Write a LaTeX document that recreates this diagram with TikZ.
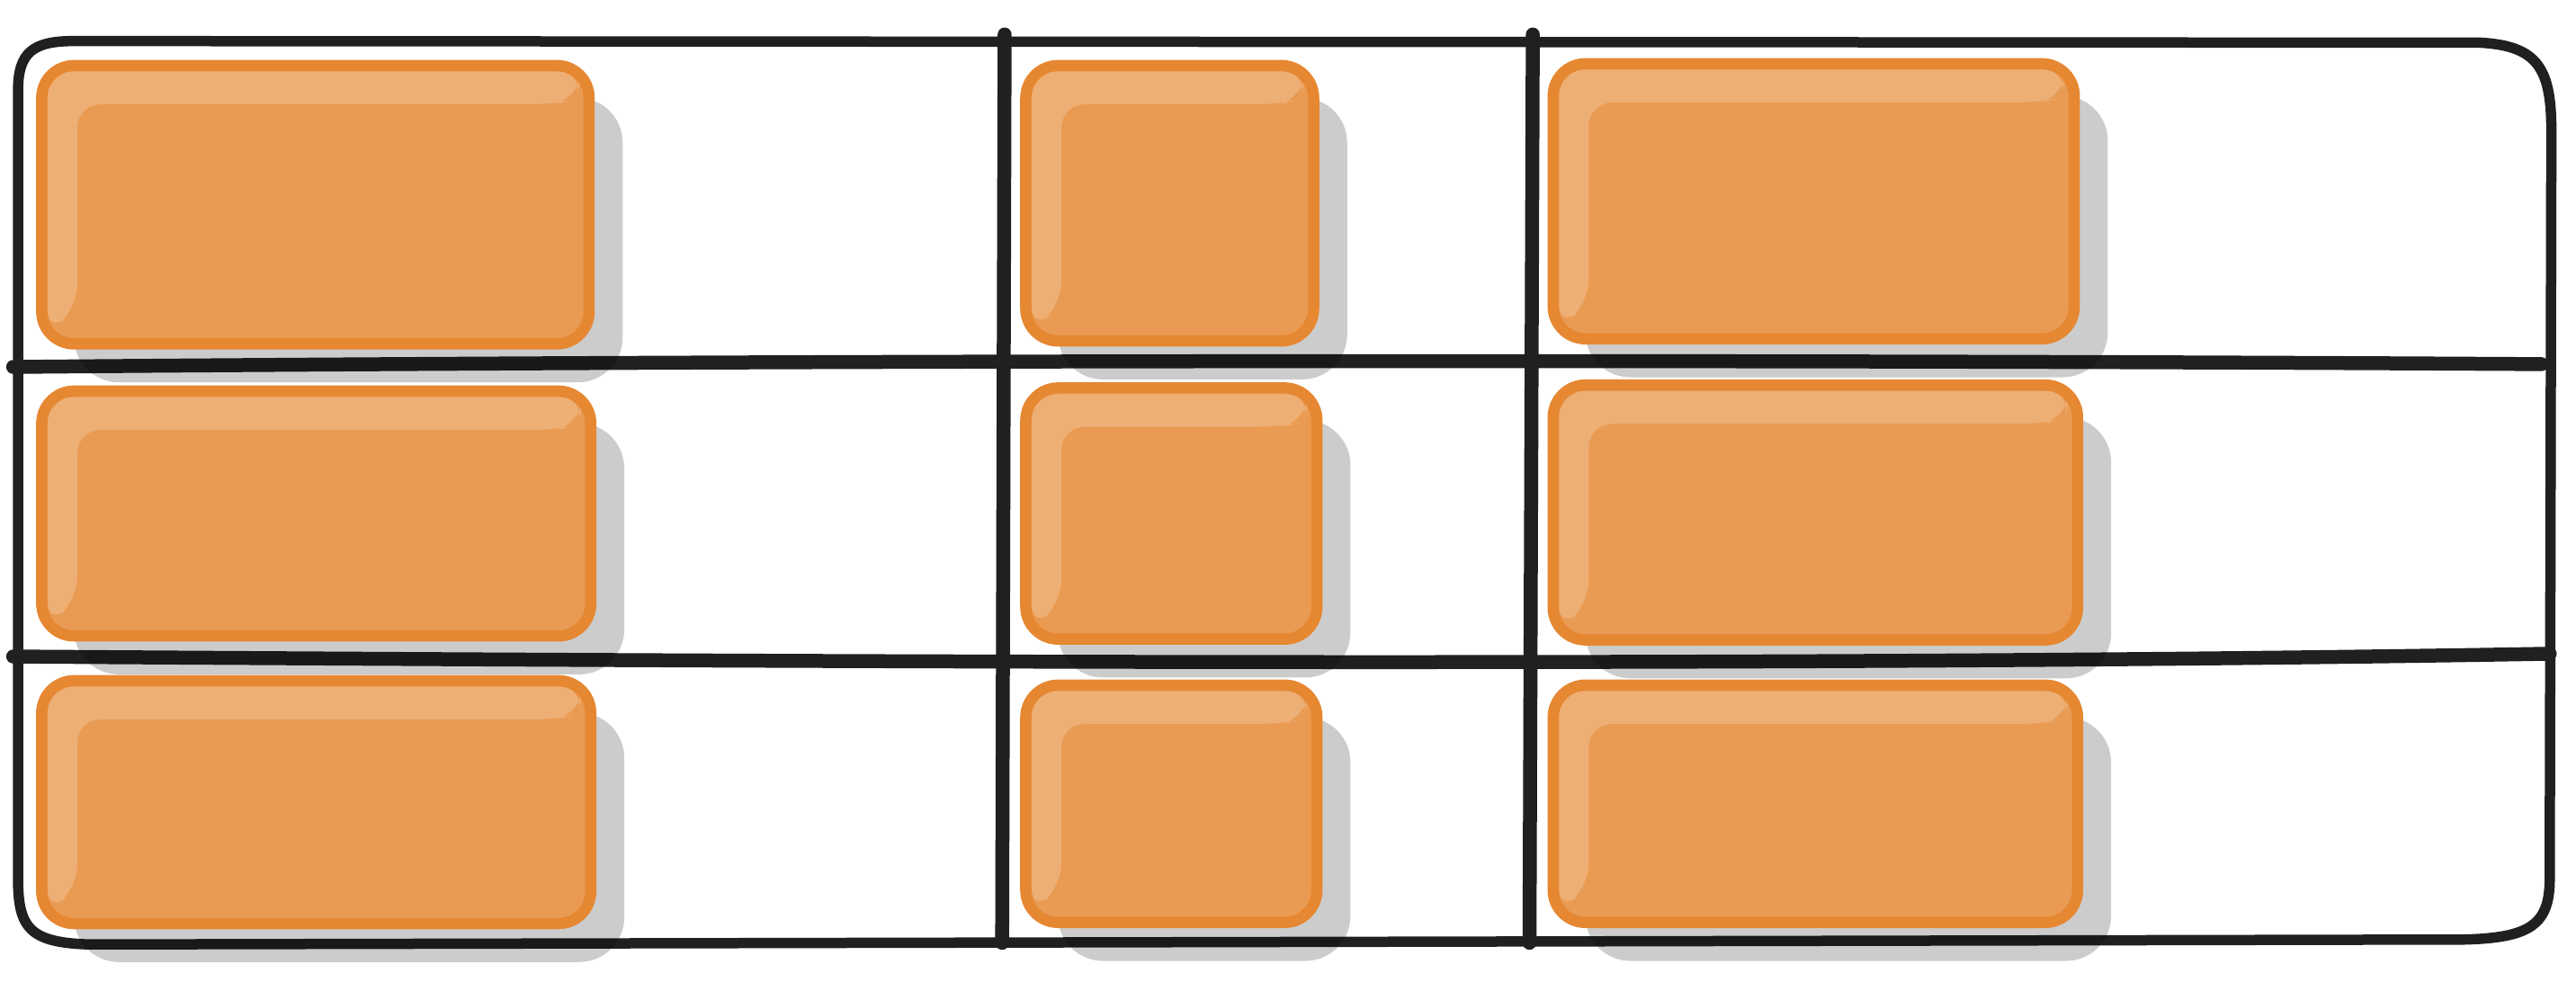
\documentclass[tikz,border=0pt]{standalone}
\usepackage{tikz}
\usepackage{xcolor}
\definecolor{BoxOrange}{RGB}{233, 155, 83}
\definecolor{EdgeOrange}{RGB}{230, 135, 50}
\definecolor{GlossOrange}{RGB}{238, 175, 117}
\definecolor{LineBlack}{RGB}{32, 32, 32}

\begin{document}
\begin{tikzpicture}[x = 0.18265mm, y = -0.18265mm,
        frameline/.style = {LineBlack, line width = 1.15mm, line cap = round, line join = round},
        gridline/.style = {LineBlack, line width = 1.55mm, line cap = round},
        shadowbox/.style = {fill = black, opacity = 0.2, rounded corners = 5mm},
        boxbody/.style = {fill = BoxOrange, rounded corners = 4mm},
        boxedge/.style = {draw = EdgeOrange, line width = 1.25mm, rounded corners = 3.6mm},
        gloss/.style = {fill = GlossOrange, rounded corners = 2.6mm}]
            %画布范围
            \useasboundingbox (0, 0) rectangle (1568, 603.3);
            %外框
            \draw[frameline] (45, 25) -- (1510, 26) .. controls (1545, 28) and (1553, 42) .. (1553, 80)
                -- (1552, 535) .. controls (1552, 563) and (1540, 571) .. (1500, 572)
                -- (55, 575) .. controls (18, 574) and (11, 565) .. (11, 535)
                -- (11, 55) .. controls (11, 32) and (20, 25) .. (45, 25) -- cycle;
            %横向分隔线
            \draw[gridline] (8, 223.4) .. controls (500, 219) and (1100, 219) .. (1547, 221.7);
            \draw[gridline] (8, 399.7) .. controls (500, 403) and (1100, 406) .. (1552, 398);
            %纵向分隔线
            \draw[gridline] (611.5, 21) -- (610, 574);
            \draw[gridline] (933, 21) -- (931, 574);
            %画方块: 阴影, 填充, 高光, 边线
            \foreach \xa/\ya/\xb/\yb in {22/36.5/362/212.8, 22/234.7/363/390.6, 22/411/363/565.7,
                    621/36.5/803/211, 621/232.8/805/392.5, 621/413.7/805/565,
                    942/35.4/1266/209.7, 942/231/1268/393, 942/413.7/1268/565}
            {
                \fill[shadowbox] ({\xa + 23}, {\ya + 23}) rectangle ({\xb + 17}, {\yb + 20});
                \fill[boxbody] ({\xa + 2}, {\ya + 2}) rectangle ({\xb - 2}, {\yb - 2});
                \fill[gloss] ({\xa + 7}, {\yb - 10}) -- ({\xa + 7}, {\ya + 7}) -- ({\xb - 8}, {\ya + 7})
                    -- ({\xb - 11}, {\ya + 24}) -- ({\xb - 24}, {\ya + 27}) -- ({\xa + 25}, {\ya + 27})
                    -- ({\xa + 25}, {\yb - 25}) -- cycle;
                \draw[boxedge] ({\xa + 3.4}, {\ya + 3.4}) rectangle ({\xb - 3.4}, {\yb - 3.4});
            }
        \end{tikzpicture}
\end{document}
